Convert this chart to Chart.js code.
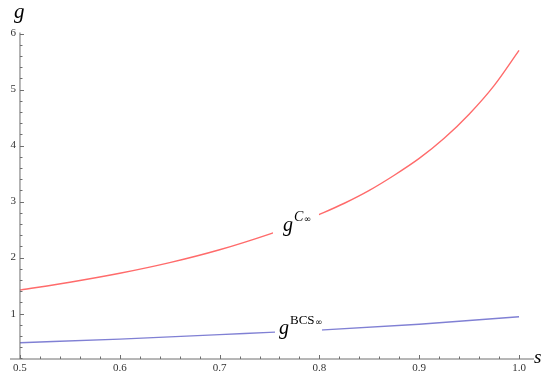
<!DOCTYPE html>
<html>
<head>
<meta charset="utf-8">
<script src="https://cdn.jsdelivr.net/npm/chart.js@4/dist/chart.umd.min.js"></script>
<style>
html,body{margin:0;padding:0;background:#fff;}
#wrap{width:550px;height:382px;}
</style>
</head>
<body>
<div id="wrap"><canvas id="c" width="550" height="382"></canvas></div>
<script>
// Data
const sValuesC = [0.50, 0.55, 0.60, 0.65, 0.70, 0.75, 0.775, 0.80, 0.825, 0.85, 0.875, 0.90, 0.925, 0.95, 0.975, 1.00];
const gC       = [1.42, 1.56, 1.72, 1.91, 2.14, 2.42, 2.58, 2.77, 2.97, 3.20, 3.47, 3.77, 4.13, 4.56, 5.07, 5.70];
const sValuesBCS = [0.50, 0.60, 0.70, 0.75, 0.80, 0.90, 1.00];
const gBCS       = [0.48, 0.545, 0.625, 0.665, 0.705, 0.81, 0.945];
const xTickLabels = ["0.5", "0.6", "0.7", "0.8", "0.9", "1.0"];
const yTickLabels = ["1", "2", "3", "4", "5", "6"];

const RED = '#ff6b6b';
const BLUE = '#8080d4';
const AXIS = '#6e6e6e';

const axesPlugin = {
  id: 'mmaAxes',
  afterDatasetsDraw(chart) {
    const ctx = chart.ctx;
    const xs = chart.scales.x, ys = chart.scales.y;
    const x0 = xs.getPixelForValue(0.5);
    const yBase = ys.getPixelForValue(ys.min);
    ctx.save();
    // curve labels with white background
    function curveLabel(xv, yv, sup, rect) {
      const px = xs.getPixelForValue(xv), py = ys.getPixelForValue(yv);
      ctx.fillStyle = '#fff';
      ctx.fillRect(px + rect[0], py + rect[1], rect[2], rect[3]);
      ctx.fillStyle = '#000';
      ctx.textBaseline = 'alphabetic';
      ctx.textAlign = 'left';
      ctx.font = 'italic 20px "Liberation Serif"';
      ctx.fillText('g', px, py);
      let w = ctx.measureText('g').width;
      ctx.font = sup.italic ? 'italic 14px "Liberation Serif"' : '13px "Liberation Serif"';
      ctx.fillText(sup.t, px + w + 1, py - 10);
      let w2 = ctx.measureText(sup.t).width;
      ctx.font = '9px "DejaVu Sans"';
      ctx.fillText('\u221E', px + w + 1 + w2 + 0.5, py - 9);
    }
    curveLabel(0.7635, 2.47, {t: 'C', italic: true}, [-10, -32, 46, 40]);
    curveLabel(0.7595, 0.634, {t: 'BCS', italic: false}, [-4, -24, 47, 34]);

    ctx.strokeStyle = AXIS;
    ctx.lineWidth = 1;
    // y axis
    ctx.beginPath();
    ctx.moveTo(x0, ys.getPixelForValue(6) - 1);
    ctx.lineTo(x0, yBase);
    ctx.stroke();
    // x axis
    ctx.beginPath();
    ctx.moveTo(xs.getPixelForValue(xs.min), yBase);
    ctx.lineTo(xs.getPixelForValue(xs.max), yBase);
    ctx.stroke();
    // y ticks: minor every 0.2
    for (let i = 1; i <= 30; i++) {
      const v = i * 0.2;
      if (v < ys.min) continue;
      const py = Math.round(ys.getPixelForValue(v)) + 0.5;
      const major = i % 5 === 0;
      ctx.beginPath();
      ctx.moveTo(x0, py);
      ctx.lineTo(x0 + (major ? 4 : 2.5), py);
      ctx.stroke();
    }
    // x ticks: minor every 0.02
    for (let i = 0; i <= 25; i++) {
      const v = 0.5 + i * 0.02;
      const px = Math.round(xs.getPixelForValue(v)) + 0.5;
      const major = i % 5 === 0;
      ctx.beginPath();
      ctx.moveTo(px, yBase);
      ctx.lineTo(px, yBase - (major ? 4 : 2.5));
      ctx.stroke();
    }
    // tick labels
    ctx.fillStyle = '#333';
    ctx.font = '11px "Liberation Serif"';
    ctx.textAlign = 'right';
    ctx.textBaseline = 'middle';
    yTickLabels.forEach(l => {
      ctx.fillText(l, x0 - 4, ys.getPixelForValue(parseFloat(l)));
    });
    ctx.textAlign = 'center';
    ctx.textBaseline = 'top';
    xTickLabels.forEach(l => {
      ctx.fillText(l, xs.getPixelForValue(parseFloat(l)), yBase + 4);
    });
    // axis labels
    ctx.fillStyle = '#000';
    ctx.font = 'italic 21px "Liberation Serif"';
    ctx.textAlign = 'left';
    ctx.textBaseline = 'alphabetic';
    ctx.fillText('g', 14, 18);
    ctx.font = 'italic 19px "Liberation Serif"';
    ctx.fillText('s', 534, 363);
    ctx.restore();
  }
};

new Chart(document.getElementById('c'), {
  type: 'line',
  data: {
    datasets: [
      {
        data: sValuesC.map((s, i) => ({x: s, y: gC[i]})),
        borderColor: RED, borderWidth: 1.4, pointRadius: 0, fill: false,
        cubicInterpolationMode: 'monotone'
      },
      {
        data: sValuesBCS.map((s, i) => ({x: s, y: gBCS[i]})),
        borderColor: BLUE, borderWidth: 1.4, pointRadius: 0, fill: false,
        cubicInterpolationMode: 'monotone'
      }
    ]
  },
  options: {
    responsive: false,
    animation: false,
    events: [],
    layout: {padding: {left: 10, right: 16, top: 33.5, bottom: 23}},
    plugins: {legend: {display: false}, tooltip: {enabled: false}},
    scales: {
      x: {type: 'linear', min: 0.49, max: 1.015, display: false},
      y: {type: 'linear', min: 0.19, max: 6.0, display: false}
    }
  },
  plugins: [axesPlugin]
});
</script>
</body>
</html>
